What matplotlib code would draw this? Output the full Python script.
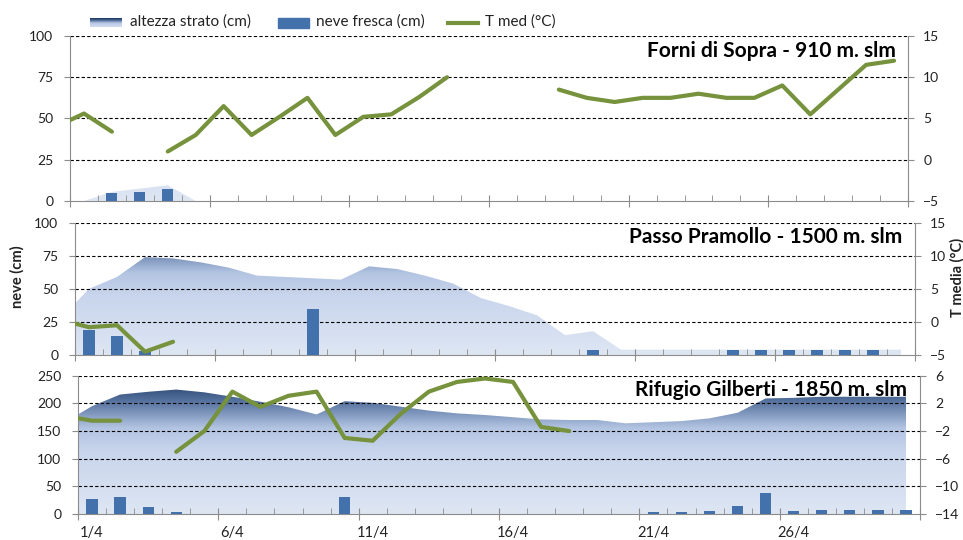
import numpy as np
import matplotlib
matplotlib.use("Agg")
import matplotlib.pyplot as plt
from matplotlib.colors import LinearSegmentedColormap
from matplotlib.transforms import blended_transform_factory

plt.rcParams['font.family'] = ['Lato', 'DejaVu Sans']

# giorni: il primo valore e' il 31/3 (fuori scala, tagliato al bordo)
days = np.arange(-1, 30)
day_labels = ['1/4', '6/4', '11/4', '16/4', '21/4', '26/4']
label_days = [0, 5, 10, 15, 20, 25]
nan = np.nan

stations = ['Forni di Sopra - 910 m. slm',
            'Passo Pramollo - 1500 m. slm',
            'Rifugio Gilberti - 1850 m. slm']

# altezza strato (cm)
hs_forni = [0, 0, 5.5, 7.5, 9.5, 0, 0, 0, 0, 0, 0, 0, 0, 0, 0, 0,
            0, 0, 0, 0, 0, 0, 0, 0, 0, 0, 0, 0, 0, 0, 0]
hs_pramollo = [28, 50, 59, 74, 73, 70, 66, 60, 59, 58, 57, 67, 65, 60, 54, 43,
               37, 30, 15, 18, 4, 4, 4, 4, 4, 4, 4, 4, 4, 4, 4]
hs_gilberti = [165, 195, 216, 221, 225, 220, 212, 203, 193, 180, 204, 201, 194, 187, 182, 179,
               175, 171, 170, 170, 164, 166, 168, 173, 183, 209, 210, 212, 212, 212, 212]

# neve fresca (cm)
hn_forni = [0, 0, 5, 5.5, 7, 0, 0, 0, 0, 0, 0, 0, 0, 0, 0, 0,
            0, 0, 0, 0, 0, 0, 0, 0, 0, 0, 0, 0, 0, 0, 0]
hn_pramollo = [0, 19, 14, 3, 0, 0, 0, 0, 0, 35, 0, 0, 0, 0, 0, 0,
               0, 0, 0, 4, 0, 0, 0, 0, 4, 4, 4, 4, 4, 4, 0]
hn_gilberti = [0, 28, 31, 13, 4, 0, 0, 0, 0, 0, 31, 0, 0, 0, 0, 0,
               0, 0, 0, 0, 0, 3, 3, 6, 14, 38, 6, 8, 8, 8, 8]

# T media (°C)
t_forni = [4.0, 5.6, 3.4, nan, 1.0, 3.0, 6.5, 3.0, 5.2, 7.5, 3.0, 5.2, 5.5, 7.6, 10.0, nan,
           nan, nan, 8.5, 7.5, 7.0, 7.5, 7.5, 8.0, 7.5, 7.5, 9.0, 5.5, 8.5, 11.5, 12.0]
t_pramollo = [0.3, -0.8, -0.5, -4.5, -3.0] + [nan] * 26
t_gilberti = [0.2, -0.5, -0.5, nan, -5.0, -2.0, 3.7, 1.5, 3.1, 3.7, -3.0, -3.4, 0.5, 3.7, 5.1, 5.6,
              5.1, -1.4, -2.0] + [nan] * 12

hs_all = [hs_forni, hs_pramollo, hs_gilberti]
hn_all = [hn_forni, hn_pramollo, hn_gilberti]
t_all = [t_forni, t_pramollo, t_gilberti]
left_ticks = [[0, 25, 50, 75, 100], [0, 25, 50, 75, 100], [0, 50, 100, 150, 200, 250]]
right_ticks = [[-5, 0, 5, 10, 15], [-5, 0, 5, 10, 15], [-14, -10, -6, -2, 2, 6]]

# posizioni pannelli (left, bottom, width, height)
rects = [[0.0727, 0.6278, 0.8702, 0.3056],
         [0.0779, 0.3426, 0.8723, 0.2450],
         [0.0810, 0.0481, 0.8744, 0.2561]]

grad = LinearSegmentedColormap.from_list('grad', [
    (0.0, '#dee6f3'), (0.45, '#c8d5ec'), (0.62, '#b3c4e2'),
    (0.80, '#5b77a3'), (0.92, '#2d4974'), (1.0, '#1f3a64')])

blue = '#4271ab'
green = '#76923c'
gray = '#8c8c8c'
txt = '#222222'

fig = plt.figure(figsize=(9.63, 5.40), dpi=100)

for i in range(3):
    ax = fig.add_axes(rects[i])
    ymax = left_ticks[i][-1]
    ax.set_xlim(-0.5, 29.5)
    ax.set_ylim(0, ymax)

    # area con sfumatura
    poly = ax.fill_between(days, 0, hs_all[i], color='none', lw=0)
    im = ax.imshow(np.linspace(0, 1, 256).reshape(-1, 1), cmap=grad, aspect='auto',
                   origin='lower', extent=[-0.5, 29.5, 0, ymax], zorder=1)
    im.set_clip_path(poly.get_paths()[0], transform=ax.transData)

    for v in left_ticks[i][1:]:
        ax.axhline(v, color='black', lw=0.8, ls=(0, (3, 2)), zorder=2)

    ax.bar(days, hn_all[i], width=0.4, color=blue, zorder=3)

    ax.set_yticks(left_ticks[i])
    ax.tick_params(axis='y', direction='out', length=4, color=gray, labelsize=10,
                   labelcolor=txt, pad=8)
    ax.set_xticks(np.arange(-0.5, 30, 5))
    ax.set_xticks(np.arange(-0.5, 30, 1), minor=True)
    ax.tick_params(axis='x', which='major', direction='inout', length=9, color=gray,
                   labelbottom=False)
    ax.tick_params(axis='x', which='minor', direction='in', length=4, color=gray)
    for s in ['top', 'right']:
        ax.spines[s].set_visible(False)
    for s in ['left', 'bottom']:
        ax.spines[s].set_color(gray)

    ax2 = ax.twinx()
    ax2.set_ylim(right_ticks[i][0], right_ticks[i][-1])
    ax2.plot(days, t_all[i], color=green, lw=3, zorder=4, solid_capstyle='round')
    ax2.set_yticks(right_ticks[i])
    ax2.tick_params(axis='y', direction='out', length=4, color=gray, labelsize=10,
                    labelcolor=txt, pad=7)
    for s in ['top', 'left', 'bottom']:
        ax2.spines[s].set_visible(False)
    ax2.spines['right'].set_color(gray)

    ax2.text(0.985, 0.968, stations[i], transform=ax.transAxes, ha='right', va='top',
             fontsize=15, fontweight='bold', color='black', zorder=5)

    if i == 2:
        tr = blended_transform_factory(ax.transData, ax.transAxes)
        for d, lbl in zip(label_days, day_labels):
            ax.text(d, -0.135, lbl, transform=tr, ha='center', va='center',
                    fontsize=10.5, color=txt)

fig.text(0.018, 0.487, 'neve (cm)', rotation=90, ha='center', va='center',
         fontsize=10.5, fontweight='bold', color=txt)
fig.text(0.994, 0.487, 'T media (°C)', rotation=90, ha='center', va='center',
         fontsize=10.5, fontweight='bold', color=txt)

# legenda
lg = fig.add_axes([0, 0, 1, 1], facecolor='none')
lg.axis('off')
lg.imshow(np.linspace(1, 0.3, 50).reshape(-1, 1), cmap=grad, aspect='auto',
          extent=[90, 122, 27, 18], vmin=0, vmax=1)
lg.add_patch(plt.Rectangle((278, 18), 31, 10, color=blue))
lg.plot([448, 478], [23, 23], color=green, lw=3)
lg.text(130, 22, 'altezza strato (cm)', va='center', fontsize=11, color=txt)
lg.text(316, 22, 'neve fresca (cm)', va='center', fontsize=11, color=txt)
lg.text(485, 22, 'T med (°C)', va='center', fontsize=11, color=txt)
lg.set_xlim(0, 963)
lg.set_ylim(540, 0)

fig.savefig('out.png', dpi=100)
